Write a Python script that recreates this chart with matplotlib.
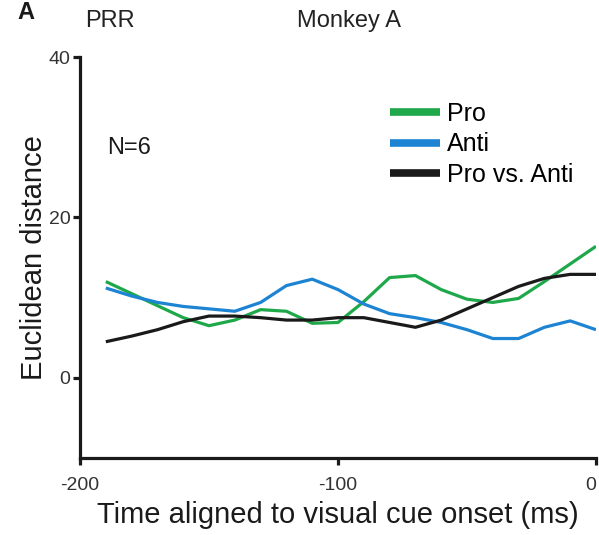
import numpy as np
import matplotlib
matplotlib.use("Agg")
import matplotlib.pyplot as plt
from matplotlib.lines import Line2D

plt.rcParams['font.family'] = ['Liberation Sans', 'DejaVu Sans']

# time bins (ms, aligned to visual cue onset)
time_ms = [-190, -180, -170, -160, -150, -140, -130, -120, -110, -100,
           -90, -80, -70, -60, -50, -40, -30, -20, -10, 0]

# euclidean distance per condition
dist_pro = [12.0, 10.5, 9.0, 7.5, 6.5, 7.2, 8.5, 8.3, 6.8, 6.9,
            9.5, 12.5, 12.75, 11.0, 9.8, 9.4, 9.9, 12.0, 14.2, 16.4]
dist_anti = [11.2, 10.2, 9.4, 8.9, 8.6, 8.3, 9.4, 11.5, 12.3, 11.0,
             9.2, 8.0, 7.5, 6.9, 6.0, 4.9, 4.9, 6.3, 7.1, 6.0]
dist_pro_vs_anti = [4.5, 5.2, 6.0, 7.0, 7.7, 7.7, 7.5, 7.2, 7.2, 7.5,
                    7.5, 6.9, 6.3, 7.2, 8.6, 10.0, 11.4, 12.4, 12.9, 12.9]

series_labels = ['Pro', 'Anti', 'Pro vs. Anti']
series_colors = ['#1ea84a', '#1c84d2', '#1a1a1a']

x_ticks = [-200, -100, 0]
y_ticks = [0, 20, 40]

fig = plt.figure(figsize=(5.99, 5.35), dpi=100)
ax = fig.add_axes([0.1336, 0.1439, 0.8614, 0.7495])

for y, c in zip([dist_pro, dist_anti, dist_pro_vs_anti], series_colors):
    ax.plot(time_ms, y, color=c, lw=2.3, solid_capstyle='butt')

ax.set_xlim(-200, 0)
ax.set_ylim(-10, 40)
ax.set_xticks(x_ticks)
ax.set_yticks(y_ticks)
ax.set_xticklabels([str(t) for t in x_ticks])
# keep the last label inside the canvas
ax.get_xticklabels()[-1].set_horizontalalignment('right')

for side in ['top', 'right']:
    ax.spines[side].set_visible(False)
for side in ['left', 'bottom']:
    ax.spines[side].set_linewidth(2.3)
    ax.spines[side].set_color('#1a1a1a')

ax.tick_params(axis='both', direction='out', length=5, width=2.3,
               colors='#1a1a1a', labelcolor='#333333', labelsize=14)
ax.tick_params(axis='x', pad=9)
ax.tick_params(axis='y', pad=2)

ax.set_xlabel('Time aligned to visual cue onset (ms)', fontsize=21,
              color='#1a1a1a', labelpad=5)
ax.set_ylabel('Euclidean distance', fontsize=21, color='#1a1a1a', labelpad=0)

handles = [Line2D([], [], color=c, lw=5.5, solid_capstyle='butt') for c in series_colors]
ax.legend(handles, series_labels, loc='upper left', bbox_to_anchor=(390 / 599, 1 - 102 / 535),
          bbox_transform=fig.transFigure, frameon=False, fontsize=18,
          handlelength=2.0, handletextpad=0.28, labelspacing=0.25, borderpad=0,
          borderaxespad=0)

ax.text(107 / 599, 1 - 148 / 535, 'N=6', transform=fig.transFigure,
        fontsize=17, va='center', ha='left', color='#1a1a1a')

fig.text(85 / 599, 1 - 21 / 535, 'PRR', fontsize=17, va='center', ha='left', color='#222222')
fig.text(297 / 599, 1 - 21 / 535, 'Monkey A', fontsize=17, va='center', ha='left', color='#222222')
# panel letter
fig.text(17 / 599, 1 - 1 / 535, 'A', fontsize=17, fontweight='bold', va='top',
         ha='left', color='#1a1a1a')

fig.savefig('out.png', dpi=100)
